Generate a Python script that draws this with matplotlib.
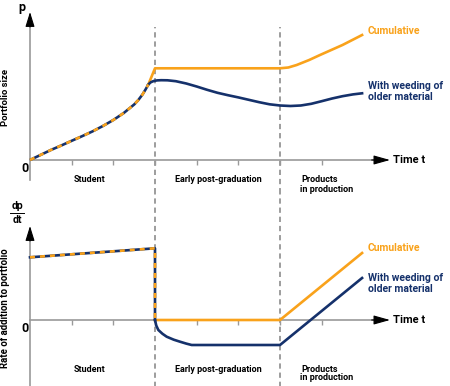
import matplotlib

matplotlib.use("Agg")
import matplotlib.pyplot as plt

plt.rcParams["font.family"] = ["Roboto", "DejaVu Sans"]
plt.rcParams["lines.scale_dashes"] = False

ORANGE = "#F9A21B"
NAVY = "#15316B"
AXIS_GREY = "#9a9a9a"
DASH_GREY = "#8c8c8c"

# --- top panel: portfolio size p(t) ---
student_x = [0, 0.25, 0.5, 0.75, 1.0, 1.25, 1.5, 1.75, 2.0, 2.25, 2.5, 2.6, 2.7, 2.78, 2.84]
student_y = [0, 0.5, 1.0, 1.45, 1.92, 2.38, 2.86, 3.4, 4.0, 4.7, 5.55, 6.0, 6.55, 7.1, 7.55]

cum_x = [2.84, 3.0, 6.0, 6.2, 6.4, 6.7, 6.96, 7.5, 7.97]
cum_y = [7.55, 9.17, 9.17, 9.25, 9.5, 10.0, 10.5, 11.5, 12.5]

weed_x = [2.84, 2.9, 2.97, 3.05, 3.15, 3.3, 3.5, 3.75, 4.0, 4.25, 4.5, 4.75, 5.0, 5.25,
          5.5, 5.75, 6.0, 6.25, 6.5, 6.75, 7.0, 7.25, 7.5, 7.75, 7.97]
weed_y = [7.55, 7.78, 7.9, 7.96, 7.98, 7.97, 7.88, 7.65, 7.35, 7.02, 6.72, 6.48, 6.26, 6.02,
          5.78, 5.57, 5.45, 5.4, 5.45, 5.62, 5.88, 6.15, 6.38, 6.56, 6.67]

# --- bottom panel: rate dp/dt ---
rate_student_x = [0, 3.0, 3.0]
rate_student_y = [6.27, 7.17, 0]

rate_cum_x = [3.0, 6.0, 7.97]
rate_cum_y = [0, 0, 6.7]

rate_weed_x = [3.0, 3.03, 3.08, 3.18, 3.28, 3.45, 3.6, 3.75, 3.88, 6.0, 7.97]
rate_weed_y = [0, -0.55, -1.0, -1.38, -1.67, -1.97, -2.17, -2.36, -2.5, -2.5, 4.2]

phase_edges = [3, 6]
tick_x = [1, 2, 3, 4, 5, 6, 7]
phase_labels = ["Student", "Early post-graduation"]
phase_label_x = [1.42, 4.53]


def draw_axes(ax, y_bottom, y_top, dash_top):
    ax.set_xlim(-0.72, 10.08)
    ax.axis("off")
    # phase separators
    ax.vlines(phase_edges, y_bottom - 5, dash_top, colors=DASH_GREY, lw=1.2,
              linestyles=[(0, (3.8, 2.8))], zorder=1)
    # axes shafts
    ax.plot([0, 0], [y_bottom, y_top - 0.8], color=AXIS_GREY, lw=1.2, zorder=2)
    ax.plot([0, 8.3], [0, 0], color=AXIS_GREY, lw=1.2, zorder=2)
    ax.vlines(tick_x, -0.45, 0, colors=AXIS_GREY, lw=1.0, zorder=2)
    # arrowheads
    ax.annotate("", xy=(0, y_top), xytext=(0, y_top - 1.5),
                arrowprops=dict(arrowstyle="-|>,head_length=0.9,head_width=0.28",
                                color="black", lw=0.8, shrinkA=0, shrinkB=0))
    ax.annotate("", xy=(8.64, 0), xytext=(8.2, 0),
                arrowprops=dict(arrowstyle="-|>,head_length=1.0,head_width=0.28",
                                color="black", lw=0.8, shrinkA=0, shrinkB=0))
    ax.text(8.71, 0, "Time t", fontsize=8, fontweight="bold", va="center", ha="left")
    ax.text(-0.12, -0.8, "0", fontsize=9, fontweight="bold", va="center", ha="center")


fig = plt.figure(figsize=(4.5, 3.86), dpi=100)
ax1 = fig.add_axes([0, 0.5, 1, 0.5])
ax2 = fig.add_axes([0, 0, 1, 0.5])

# top panel
ax1.set_ylim(-3.3, 16.0)
draw_axes(ax1, -2.0, 14.8, 13.3)
ax1.plot(student_x, student_y, color=NAVY, lw=1.9, solid_capstyle="butt", zorder=4)
ax1.plot(student_x, student_y, color=ORANGE, lw=1.9, linestyle=(0, (3.6, 3.6)), zorder=5)
ax1.plot(cum_x, cum_y, color=ORANGE, lw=1.9, zorder=4)
ax1.plot(weed_x, weed_y, color=NAVY, lw=1.9, zorder=4)
ax1.text(-0.19, 15.3, "p", fontsize=9, fontweight="bold", ha="center", va="center")
ax1.text(-0.6, 6.2, "Portfolio size", fontsize=6.8, fontweight="bold", rotation=90,
         ha="center", va="center")
for lab, lx in zip(phase_labels, phase_label_x):
    ax1.text(lx, -2.0, lab, fontsize=6.5, fontweight="bold", ha="center", va="center")
ax1.text(6.52, -2.0, "Products", fontsize=6.5, fontweight="bold", ha="left", va="center")
ax1.text(6.48, -2.93, "in production", fontsize=6.5, fontweight="bold", ha="left", va="center")
ax1.text(8.11, 12.9, "Cumulative", fontsize=7.5, fontweight="bold", color=ORANGE,
         ha="left", va="center")
ax1.text(8.11, 6.85, "With weeding of\nolder material", fontsize=7.5, fontweight="bold",
         color=NAVY, ha="left", va="center", linespacing=1.05)

# bottom panel
ax2.set_ylim(-6.6, 12.7)
draw_axes(ax2, -6.6, 9.4, 13.0)
ax2.plot(rate_cum_x, rate_cum_y, color=ORANGE, lw=1.9, zorder=4)
ax2.plot(rate_weed_x, rate_weed_y, color=NAVY, lw=1.9, zorder=4)
ax2.plot(rate_student_x, rate_student_y, color=NAVY, lw=1.9, zorder=4)
ax2.plot(rate_student_x, rate_student_y, color=ORANGE, lw=1.9,
         linestyle=(0, (3.6, 3.6)), zorder=5)
ax2.text(-0.31, 11.4, "dp", fontsize=7.5, fontweight="bold", ha="center", va="center")
ax2.text(-0.31, 10.0, "dt", fontsize=7.5, fontweight="bold", ha="center", va="center")
ax2.plot([-0.47, -0.15], [10.7, 10.7], color="black", lw=0.7)
ax2.text(-0.6, 1.2, "Rate of addition to portfolio", fontsize=6.9, fontweight="bold",
         rotation=90, ha="center", va="center")
for lab, lx in zip(phase_labels, phase_label_x):
    ax2.text(lx, -4.9, lab, fontsize=6.5, fontweight="bold", ha="center", va="center")
ax2.text(6.52, -4.9, "Products", fontsize=6.5, fontweight="bold", ha="left", va="center")
ax2.text(6.48, -5.8, "in production", fontsize=6.5, fontweight="bold", ha="left", va="center")
ax2.text(8.11, 7.2, "Cumulative", fontsize=7.5, fontweight="bold", color=ORANGE,
         ha="left", va="center")
ax2.text(8.11, 3.65, "With weeding of\nolder material", fontsize=7.5, fontweight="bold",
         color=NAVY, ha="left", va="center", linespacing=1.05)

fig.savefig("out.png", dpi=100)
